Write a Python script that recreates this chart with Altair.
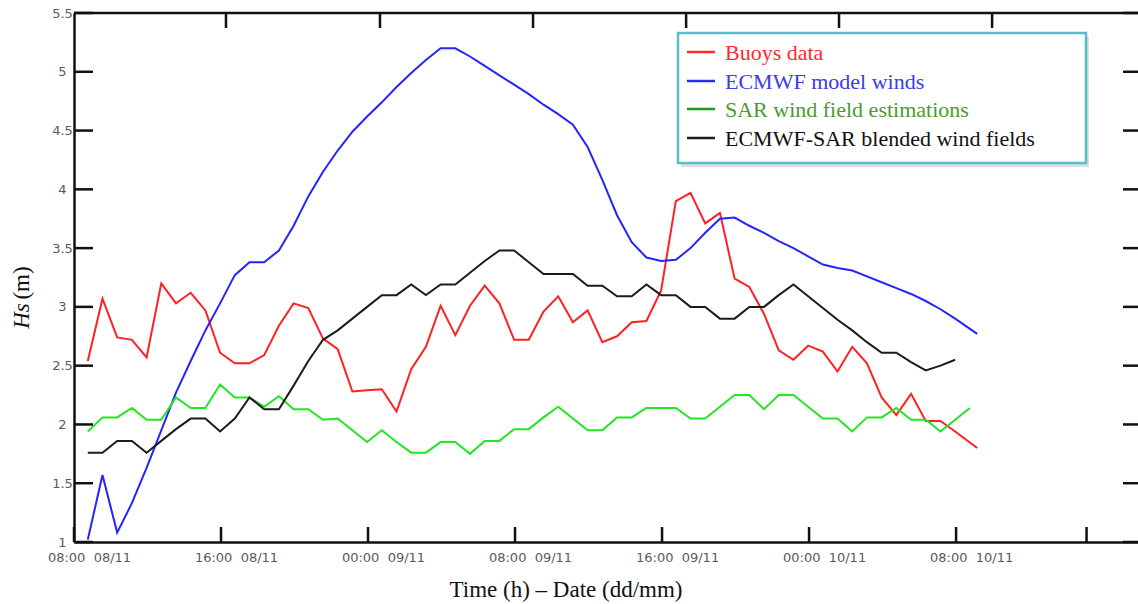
import altair as alt
import pandas as pd

# ---------------- data ----------------
# x = hours after 08:00 on 08/11; samples every 48 min starting 08:45
start_hour = 0.75
step_hour = 0.8

buoys = [2.54, 3.07, 2.74, 2.72, 2.57, 3.20, 3.03, 3.12, 2.97, 2.61,
         2.52, 2.52, 2.59, 2.84, 3.03, 2.99, 2.73, 2.64, 2.28, 2.29,
         2.30, 2.11, 2.47, 2.66, 3.01, 2.76, 3.01, 3.18, 3.03, 2.72,
         2.72, 2.96, 3.09, 2.87, 2.97, 2.70, 2.75, 2.87, 2.88, 3.14,
         3.90, 3.97, 3.71, 3.80, 3.24, 3.17, 2.94, 2.63, 2.55, 2.67,
         2.62, 2.45, 2.66, 2.52, 2.23, 2.08, 2.26, 2.03, 2.03, 1.94]
ecmwf = [1.02, 1.57, 1.08, 1.33, 1.63, 1.95, 2.27, 2.54, 2.80, 3.03,
         3.27, 3.38, 3.38, 3.48, 3.69, 3.94, 4.15, 4.33, 4.49, 4.62,
         4.74, 4.87, 4.99, 5.10, 5.20, 5.20, 5.13, 5.05, 4.97, 4.89,
         4.81, 4.72, 4.64, 4.55, 4.36, 4.08, 3.78, 3.55, 3.42, 3.39,
         3.40, 3.50, 3.63, 3.75, 3.76, 3.69, 3.63, 3.56, 3.50, 3.43,
         3.36, 3.33, 3.31, 3.26, 3.21, 3.16, 3.11, 3.05, 2.98, 2.90]
# last buoy / ECMWF samples (a little after the regular grid)
last_hour = 49.15
buoys_last = 1.80
ecmwf_last = 2.77

sar = [1.94, 2.06, 2.06, 2.14, 2.04, 2.04, 2.23, 2.14, 2.14, 2.34,
       2.23, 2.23, 2.15, 2.24, 2.13, 2.13, 2.04, 2.05, 1.95, 1.85,
       1.95, 1.85, 1.76, 1.76, 1.85, 1.85, 1.75, 1.86, 1.86, 1.96,
       1.96, 2.06, 2.15, 2.05, 1.95, 1.95, 2.06, 2.06, 2.14, 2.14,
       2.14, 2.05, 2.05, 2.15, 2.25, 2.25, 2.13, 2.25, 2.25, 2.15,
       2.05, 2.05, 1.94, 2.06, 2.06, 2.14, 2.04, 2.04, 1.94, 2.04,
       2.14]
blended = [1.76, 1.76, 1.86, 1.86, 1.76, 1.86, 1.96, 2.05, 2.05, 1.94,
           2.05, 2.23, 2.13, 2.13, 2.33, 2.54, 2.72, 2.80, 2.90, 3.00,
           3.10, 3.10, 3.19, 3.10, 3.19, 3.19, 3.29, 3.39, 3.48, 3.48,
           3.38, 3.28, 3.28, 3.28, 3.18, 3.18, 3.09, 3.09, 3.19, 3.10,
           3.10, 3.00, 3.00, 2.90, 2.90, 3.00, 3.00, 3.10, 3.19, 3.09,
           2.99, 2.89, 2.80, 2.70, 2.61, 2.61, 2.53, 2.46, 2.50, 2.55]

series_names = ["Buoys data", "ECMWF model winds",
                "SAR wind field estimations", "ECMWF-SAR blended wind fields"]
line_colors = ["#ff2020", "#2424ff", "#22e622", "#1c1c1c"]
legend_symbol_colors = ["#ff2a2a", "#2a2aff", "#1e9a1e", "#1c1c1c"]
legend_text_colors = ["#ff2a2a", "#3a3af0", "#4c9a30", "#111111"]

y_ticks = [1, 1.5, 2, 2.5, 3, 3.5, 4, 4.5, 5, 5.5]
x_label_hours = [0, 8, 16, 24, 32, 40, 48]
x_label_text = ["08:00  08/11", "16:00  08/11", "00:00  09/11", "08:00  09/11",
                "16:00  09/11", "00:00  10/11", "08:00  10/11"]
x_tick_hours = [0, 8, 16, 24, 32, 40, 48, 55.1]
top_tick_hours = [8.27, 16.65, 24.98, 33.31, 41.63, 49.96]
x_domain = [0, 57.9]
y_domain = [1, 5.5]

# ---------------- table ----------------
rows = []
def add(name, vals, extra=None):
    for i, v in enumerate(vals):
        rows.append({"series": name, "hours": start_hour + step_hour * i, "hs": v, "o": i})
    if extra is not None:
        rows.append({"series": name, "hours": last_hour, "hs": extra, "o": len(vals)})

add(series_names[0], buoys, buoys_last)
add(series_names[1], ecmwf, ecmwf_last)
add(series_names[2], sar)
add(series_names[3], blended)
df = pd.DataFrame(rows)

W, H = 1064, 529

xscale = alt.Scale(domain=x_domain, nice=False, zero=False)
yscale = alt.Scale(domain=y_domain, nice=False, zero=False)

nb = "\u00a0\u00a0"
expr = "''"
for h, t in reversed(list(zip(x_label_hours, x_label_text))):
    expr = f"datum.value == {h} ? '{t.replace('  ', nb)}' : ({expr})"

xaxis = alt.Axis(values=x_label_hours, labelExpr=expr, ticks=False, tickSize=0,
                 grid=False, title=None, domainColor="#111", domainWidth=2.5,
                 labelFont="DejaVu Sans", labelFontSize=13, labelColor="#5a5a5a",
                 labelPadding=9, labelOffset=15, labelFlush=False, labelOverlap=False)
yaxis = alt.Axis(values=y_ticks, format="~g", ticks=False, tickSize=0, grid=False,
                 title=None, domainColor="#111", domainWidth=2.5,
                 labelFont="DejaVu Sans", labelFontSize=13, labelColor="#5a5a5a",
                 labelAlign="center", labelBaseline="middle", labelPadding=12)

lines = alt.Chart(df).mark_line(strokeWidth=2).encode(
    x=alt.X("hours:Q", scale=xscale, axis=xaxis),
    y=alt.Y("hs:Q", scale=yscale, axis=yaxis),
    color=alt.Color("series:N", scale=alt.Scale(domain=series_names, range=line_colors), legend=None),
    order="o:Q",
)

one = pd.DataFrame({"a": [0]})
tick_style = dict(color="#111", strokeWidth=2.5)

yt = pd.DataFrame({"v": y_ticks})
left_ticks = alt.Chart(yt).mark_rule(**tick_style).encode(
    y=alt.Y("v:Q", scale=yscale), x=alt.value(0), x2=alt.value(19))
right_ticks = alt.Chart(yt).mark_rule(**tick_style).encode(
    y=alt.Y("v:Q", scale=yscale), x=alt.value(W - 15), x2=alt.value(W))
bottom_ticks = alt.Chart(pd.DataFrame({"h": x_tick_hours})).mark_rule(**tick_style).encode(
    x=alt.X("h:Q", scale=xscale), y=alt.value(H), y2=alt.value(H - 15))
top_ticks = alt.Chart(pd.DataFrame({"h": top_tick_hours})).mark_rule(**tick_style).encode(
    x=alt.X("h:Q", scale=xscale), y=alt.value(0), y2=alt.value(15))
top_line = alt.Chart(one).mark_rule(**tick_style).encode(
    x=alt.value(0), x2=alt.value(W), y=alt.value(0))

# legend box
lx0, lx1, ly0, ly1 = 604, 1012, 20, 150
shadow = alt.Chart(one).mark_rect(fill="#c8c8c8", opacity=0.6).encode(
    x=alt.value(lx0 + 3), x2=alt.value(lx1 + 3), y=alt.value(ly0 + 4), y2=alt.value(ly1 + 4))
box = alt.Chart(one).mark_rect(fill="white", stroke="#58bccb", strokeWidth=2.5).encode(
    x=alt.value(lx0), x2=alt.value(lx1), y=alt.value(ly0), y2=alt.value(ly1))
legend_layers = [shadow, box]
row_y = [39, 68, 96, 125]
for name, sc, tc, ry in zip(series_names, legend_symbol_colors, legend_text_colors, row_y):
    legend_layers.append(alt.Chart(one).mark_rule(color=sc, strokeWidth=2.5).encode(
        x=alt.value(613), x2=alt.value(641), y=alt.value(ry)))
    legend_layers.append(alt.Chart(one).mark_text(
        text=name, color=tc, font="Liberation Serif", fontSize=22,
        align="left", baseline="middle").encode(x=alt.value(651), y=alt.value(ry + 1)))

# titles
ytitle_hs = alt.Chart(one).mark_text(
    text="Hs", font="Liberation Serif", fontStyle="italic", fontSize=23, angle=270,
    align="center", baseline="middle", color="#111").encode(x=alt.value(-52), y=alt.value(303))
ytitle_m = alt.Chart(one).mark_text(
    text="(m)", font="Liberation Serif", fontSize=23, angle=270,
    align="center", baseline="middle", color="#111").encode(x=alt.value(-52), y=alt.value(270))
xtitle = alt.Chart(one).mark_text(
    text="Time (h) \u2013 Date (dd/mm)", font="Liberation Serif", fontSize=23,
    align="center", baseline="alphabetic", color="#111").encode(x=alt.value(492), y=alt.value(584))

chart = alt.layer(
    lines, left_ticks, right_ticks, bottom_ticks, top_ticks, top_line,
    *legend_layers, ytitle_hs, ytitle_m, xtitle
).properties(
    width=W, height=H,
    padding={"left": 74, "top": 13, "right": 0, "bottom": 62},
    autosize=alt.AutoSizeParams(type="none"),
    background="white",
).configure_view(strokeWidth=0)

chart.save("out.html", embed_options={"renderer": "svg", "actions": False})
